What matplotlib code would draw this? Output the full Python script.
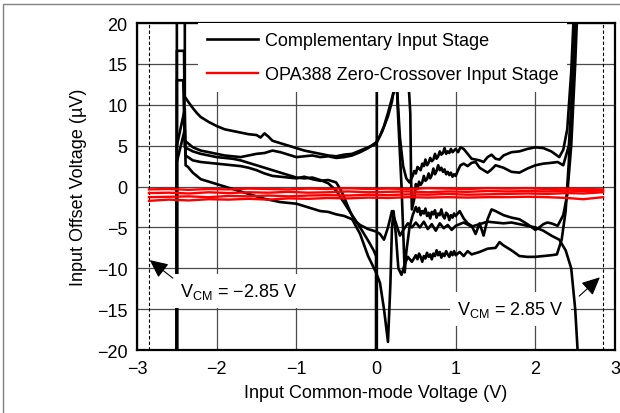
import matplotlib
matplotlib.use("Agg")
import matplotlib.pyplot as plt
import numpy as np
from matplotlib.patches import Rectangle

# offset voltage vs common-mode voltage, complementary vs zero-crossover input stage

plt.rcParams['font.family'] = ['Liberation Sans', 'DejaVu Sans']
plt.rcParams['mathtext.fontset'] = 'custom'
plt.rcParams['mathtext.rm'] = 'Liberation Sans'
font_size = 13

# ---- data (x = Vcm in V, y = Vos in uV) ----
comp_1 = [(-2.5, -25), (-2.5, 25), (-2.4, 25), (-2.4, 11.0), (-2.36, 10.4), (-2.3, 9.6), (-2.25, 9.0),
          (-2.2, 8.5), (-2.1, 7.9), (-2.0, 7.4), (-1.9, 7.0), (-1.8, 6.8), (-1.7, 6.6), (-1.6, 6.4),
          (-1.5, 6.3), (-1.45, 6.0), (-1.4, 6.5), (-1.35, 6.1), (-1.3, 5.6), (-1.2, 5.3), (-1.1, 5.0),
          (-1.0, 4.7), (-0.9, 4.4), (-0.8, 4.2), (-0.7, 4.0), (-0.6, 3.8), (-0.5, 3.7), (-0.4, 3.9),
          (-0.3, 4.0), (-0.2, 4.4), (-0.1, 4.8), (0.0, 5.2), (0.08, 6.8), (0.15, 8.6), (0.2, 10.4),
          (0.24, 13.0), (0.27, 11.0), (0.3, 6.0), (0.34, 2.5), (0.38, 1.0), (0.42, 0.5), (0.46, 1.3),
          (0.48, 1.9), (0.5, 1.6), (0.52, 2.4), (0.54, 2.2), (0.56, 2.0), (0.58, 2.8), (0.6, 2.5),
          (0.62, 3.3), (0.64, 2.6), (0.66, 2.9), (0.68, 3.5), (0.7, 3.1), (0.72, 3.3), (0.74, 4.0),
          (0.76, 3.4), (0.78, 3.7), (0.8, 4.3), (0.82, 3.9), (0.84, 4.1), (0.86, 4.7), (0.88, 4.0),
          (0.9, 4.3), (0.92, 4.1), (0.94, 4.6), (0.96, 4.2), (0.98, 4.4), (1.0, 4.6), (1.03, 4.2),
          (1.06, 4.8), (1.1, 4.6), (1.15, 4.0), (1.2, 3.4), (1.3, 3.2), (1.35, 3.0), (1.4, 3.6),
          (1.45, 3.9), (1.5, 3.4), (1.55, 3.3), (1.6, 3.8), (1.7, 4.2), (1.8, 4.3), (1.9, 4.6),
          (2.0, 4.8), (2.1, 4.7), (2.2, 4.3), (2.3, 3.6), (2.35, 4.5), (2.4, 7.0), (2.45, 14.0), (2.5, 25)]

comp_2 = [(-2.5, -25), (-2.5, 16.6), (-2.41, 16.6), (-2.4, 5.6), (-2.36, 5.3), (-2.3, 4.8), (-2.2, 4.4),
          (-2.1, 4.2), (-2.0, 4.0), (-1.9, 3.8), (-1.8, 3.7), (-1.7, 3.6), (-1.6, 3.8), (-1.5, 4.0),
          (-1.4, 4.1), (-1.3, 4.4), (-1.2, 4.2), (-1.1, 3.9), (-1.0, 3.6), (-0.9, 3.7), (-0.8, 3.8),
          (-0.7, 3.6), (-0.6, 3.7), (-0.5, 3.5), (-0.4, 3.6), (-0.3, 3.8), (-0.2, 4.2), (-0.1, 4.7),
          (0.0, 5.4), (0.05, 6.2), (0.1, 7.4), (0.15, 9.0), (0.2, 10.8), (0.3, 14.0), (0.4, 14.0),
          (0.43, 9.0), (0.44, 1.0), (0.45, -2.8), (0.48, -1.5), (0.5, 0.3), (0.52, -0.3), (0.54, 0.6),
          (0.56, 0.2), (0.58, 0.5), (0.6, 1.3), (0.62, 0.7), (0.64, 0.9), (0.66, 1.6), (0.68, 1.0),
          (0.7, 1.4), (0.72, 2.2), (0.74, 1.5), (0.76, 1.9), (0.78, 2.6), (0.8, 2.0), (0.82, 2.3),
          (0.84, 1.8), (0.86, 2.1), (0.88, 1.5), (0.9, 1.8), (0.92, 1.4), (0.94, 1.7), (0.96, 1.2),
          (0.98, 1.5), (1.0, 1.3), (1.03, 2.0), (1.06, 2.6), (1.1, 2.8), (1.15, 2.5), (1.2, 2.9),
          (1.25, 3.0), (1.3, 2.3), (1.35, 2.0), (1.4, 1.7), (1.45, 2.1), (1.5, 2.6), (1.6, 2.3),
          (1.7, 1.8), (1.8, 1.7), (1.9, 2.2), (2.0, 2.6), (2.1, 2.8), (2.2, 2.9), (2.28, 3.0),
          (2.35, 2.6), (2.42, 5.0), (2.47, 12.0), (2.52, 25)]

comp_3 = [(-2.5, -25), (-2.5, 13.0), (-2.42, 13.0), (-2.4, 4.8), (-2.36, 4.6), (-2.3, 4.3), (-2.2, 4.0),
          (-2.1, 3.8), (-2.0, 3.6), (-1.9, 3.5), (-1.8, 3.4), (-1.7, 3.2), (-1.6, 2.9), (-1.5, 2.6),
          (-1.4, 2.3), (-1.3, 2.0), (-1.2, 1.7), (-1.1, 1.4), (-1.0, 1.1), (-0.9, 1.0), (-0.8, 1.1),
          (-0.7, 0.8), (-0.6, 0.4), (-0.5, -0.5), (-0.4, -2.0), (-0.3, -3.5), (-0.2, -5.0), (-0.1, -6.6),
          (-0.03, -7.8), (0.0, -8.5), (0.0, -25), (0.01, -25), (0.01, 25), (0.25, 25), (0.27, 10.0),
          (0.32, 0.0), (0.36, -10.5), (0.38, -8.0), (0.42, -5.0), (0.46, -3.5), (0.5, -2.5),
          (0.52, -3.1), (0.54, -2.6), (0.56, -3.5), (0.58, -3.0), (0.6, -3.3), (0.62, -2.7),
          (0.64, -3.6), (0.66, -3.2), (0.68, -3.9), (0.7, -3.1), (0.72, -3.4), (0.74, -2.9),
          (0.76, -3.8), (0.78, -3.3), (0.8, -3.5), (0.82, -2.8), (0.84, -3.6), (0.86, -3.9),
          (0.88, -3.2), (0.9, -3.4), (0.92, -4.1), (0.94, -3.5), (0.96, -3.8), (0.98, -3.3),
          (1.0, -3.6), (1.05, -3.0), (1.1, -3.9), (1.15, -4.5), (1.2, -4.8), (1.25, -5.8), (1.3, -4.5),
          (1.35, -6.0), (1.4, -4.0), (1.45, -2.8), (1.5, -3.0), (1.6, -3.5), (1.7, -3.8), (1.8, -4.0),
          (1.9, -4.6), (2.0, -5.3), (2.05, -5.0), (2.1, -4.6), (2.15, -4.4), (2.2, -4.5), (2.28, -4.8),
          (2.35, -3.5), (2.4, -1.0), (2.45, 5.0), (2.5, 15.0), (2.54, 25)]

comp_4 = [(-2.5, -25), (-2.5, 5.0), (-2.4, 9.5), (-2.39, 3.8), (-2.36, 3.6), (-2.3, 3.2), (-2.2, 3.0),
          (-2.1, 2.9), (-2.0, 2.8), (-1.9, 2.7), (-1.8, 2.6), (-1.7, 2.5), (-1.6, 2.3), (-1.5, 2.0),
          (-1.4, 1.6), (-1.3, 1.3), (-1.2, 1.2), (-1.1, 1.1), (-1.0, 1.0), (-0.9, 1.2), (-0.8, 0.9),
          (-0.7, 0.7), (-0.6, 0.8), (-0.5, 0.5), (-0.45, -0.3), (-0.4, -1.3), (-0.35, -2.5), (-0.3, -3.6),
          (-0.25, -4.3), (-0.2, -4.7), (-0.1, -5.2), (0.0, -5.5), (0.05, -5.8), (0.1, -6.5), (0.15, -5.0),
          (0.2, -3.0), (0.25, -4.5), (0.3, -6.0), (0.35, -5.2), (0.4, -4.5), (0.45, -5.0), (0.5, -4.4),
          (0.55, -5.0), (0.6, -4.3), (0.65, -5.2), (0.7, -4.6), (0.75, -5.4), (0.8, -4.5), (0.85, -5.1),
          (0.9, -4.7), (0.95, -5.3), (1.0, -4.8), (1.1, -4.4), (1.2, -4.9), (1.3, -4.6), (1.4, -4.3),
          (1.5, -4.4), (1.6, -4.5), (1.7, -4.4), (1.8, -4.6), (1.9, -4.8), (2.0, -5.0), (2.1, -5.4),
          (2.2, -6.0), (2.3, -6.5), (2.38, -7.8), (2.45, -10.0), (2.5, -15.0), (2.56, -25)]

comp_5 = [(-2.5, -25), (-2.5, 3.0), (-2.4, 7.0), (-2.39, 2.6), (-2.36, 2.4), (-2.3, 1.7), (-2.2, 0.9),
          (-2.1, 0.6), (-2.0, 0.3), (-1.9, 0.0), (-1.8, -0.3), (-1.7, -0.6), (-1.6, -0.9), (-1.5, -1.2),
          (-1.4, -1.5), (-1.3, -1.7), (-1.2, -1.9), (-1.1, -2.0), (-1.0, -2.1), (-0.9, -2.4), (-0.8, -2.7),
          (-0.7, -3.0), (-0.6, -3.1), (-0.5, -3.4), (-0.4, -3.6), (-0.3, -4.0), (-0.2, -5.8), (-0.1, -8.5),
          (0.0, -10.5), (0.05, -11.8), (0.1, -15.0), (0.15, -19.0), (0.18, -12.0), (0.2, -5.0),
          (0.22, -3.0), (0.25, -6.0), (0.28, -10.0), (0.32, -10.8), (0.36, -9.5), (0.4, -8.6),
          (0.45, -9.2), (0.5, -8.4), (0.52, -8.9), (0.54, -8.2), (0.56, -8.6), (0.58, -9.2),
          (0.6, -8.5), (0.62, -8.8), (0.64, -8.1), (0.66, -8.6), (0.68, -8.3), (0.7, -8.9),
          (0.72, -8.2), (0.74, -8.5), (0.76, -7.8), (0.78, -8.4), (0.8, -8.0), (0.82, -8.7),
          (0.84, -8.2), (0.86, -8.5), (0.88, -7.9), (0.9, -8.3), (0.92, -8.6), (0.94, -8.0),
          (0.96, -8.4), (0.98, -7.9), (1.0, -8.4), (1.05, -8.0), (1.1, -8.5), (1.15, -7.9), (1.2, -8.3),
          (1.3, -8.0), (1.4, -7.6), (1.5, -7.5), (1.55, -6.8), (1.6, -7.2), (1.7, -7.8), (1.8, -8.5),
          (1.9, -8.6), (2.0, -8.6), (2.1, -8.5), (2.2, -8.4), (2.27, -8.3), (2.33, -6.5), (2.38, -3.0),
          (2.42, 3.0), (2.46, 12.0), (2.5, 25)]

comp_curves = [comp_1, comp_2, comp_3, comp_4, comp_5]

zc_x = [-2.85, -2.6, -2.35, -2.1, -1.85, -1.6, -1.35, -1.1, -0.85, -0.6, -0.35, -0.1,
        0.15, 0.4, 0.65, 0.9, 1.15, 1.4, 1.65, 1.9, 2.15, 2.4, 2.6, 2.85]
zc_1 = [-0.35, -0.3, -0.4, -0.3, -0.35, -0.25, -0.3, -0.35, -0.25, -0.3, -0.2, -0.3,
        -0.25, -0.3, -0.2, -0.25, -0.3, -0.2, -0.25, -0.2, -0.3, -0.25, -0.3, -0.35]
zc_2 = [-0.8, -0.75, -0.85, -0.7, -0.8, -0.7, -0.75, -0.65, -0.75, -0.7, -0.6, -0.7,
        -0.65, -0.6, -0.7, -0.6, -0.65, -0.55, -0.6, -0.55, -0.6, -0.5, -0.55, -0.5]
zc_3 = [-1.3, -1.25, -1.2, -1.3, -1.15, -1.2, -1.1, -1.2, -1.1, -1.05, -1.1, -1.0,
        -1.05, -0.95, -1.0, -0.9, -1.0, -0.95, -0.9, -0.85, -0.9, -0.8, -0.85, -0.7]
zc_4 = [-1.75, -1.6, -1.7, -1.55, -1.6, -1.5, -1.6, -1.45, -1.5, -1.4, -1.45, -1.35,
        -1.4, -1.3, -1.35, -1.3, -1.35, -1.3, -1.3, -1.25, -1.3, -1.4, -1.55, -1.3]
zc_curves = [zc_1, zc_2, zc_3, zc_4]

vcm_limits = [-2.85, 2.85]
x_ticks = [-3, -2, -1, 0, 1, 2, 3]
y_ticks = [-20, -15, -10, -5, 0, 5, 10, 15, 20]

# ---- figure ----
fig = plt.figure(figsize=(6.2, 4.14), dpi=100)
ax = fig.add_axes([0.221, 0.152, 0.771, 0.790])

# outer frame of the picture
fig.patches.append(Rectangle((3 / 620, -0.05), 1.1, 1 - 5 / 414 + 0.05, transform=fig.transFigure,
                             fill=False, edgecolor='#808080', lw=1.0))

ax.set_xlim(-3, 3)
ax.set_ylim(-20, 20)
ax.set_xticks(x_ticks)
ax.set_yticks(y_ticks)
ax.grid(True, color='#4a4a4a', lw=0.9)
ax.set_axisbelow(True)
ax.tick_params(length=0, labelsize=font_size, pad=7)
for s in ax.spines.values():
    s.set_linewidth(1.6)

for v in vcm_limits:
    ax.axvline(v, color='black', lw=0.8, ls=(0, (3, 2)), zorder=1.5)

for i, c in enumerate(comp_curves):
    c = np.array(c)
    ax.plot(c[:, 0], c[:, 1], color='black', lw=1.9,
            label='Complementary Input Stage' if i == 0 else None)
for i, y in enumerate(zc_curves):
    ax.plot(zc_x, y, color='#ff0000', lw=1.7,
            label='OPA388 Zero-Crossover Input Stage' if i == 0 else None)

leg = ax.legend(loc='upper left', bbox_to_anchor=(0.1276, 1.0), borderaxespad=0,
                fontsize=font_size, frameon=True, fancybox=False, handlelength=2.8,
                handletextpad=0.4, labelspacing=0.95, borderpad=0.5)
leg.get_frame().set_facecolor('white')
leg.get_frame().set_edgecolor('none')
leg.get_frame().set_alpha(1)

box = dict(facecolor='white', edgecolor='none', pad=5)
ax.text(-2.46, -12.8, r'V$_{\mathregular{CM}}$ = −2.85 V', fontsize=font_size,
        ha='left', va='center', bbox=box, zorder=6)
ax.text(2.36, -15.0, r'V$_{\mathregular{CM}}$ = 2.85 V', fontsize=font_size,
        ha='right', va='center', bbox=box, zorder=6)
arrow = dict(arrowstyle='-|>,head_length=0.85,head_width=0.4', lw=0.8, color='black',
             shrinkA=0, shrinkB=0, mutation_scale=13)
ax.annotate('', xy=(-2.84, -9.0), xytext=(-2.55, -11.2), arrowprops=arrow, zorder=7)
ax.annotate('', xy=(2.81, -11.1), xytext=(2.55, -13.4), arrowprops=arrow, zorder=7)

ax.set_xlabel('Input Common-mode Voltage (V)', fontsize=font_size, labelpad=5)
ax.set_ylabel('Input Offset Voltage (µV)', fontsize=font_size, labelpad=7)

fig.savefig('out.png', dpi=100)
